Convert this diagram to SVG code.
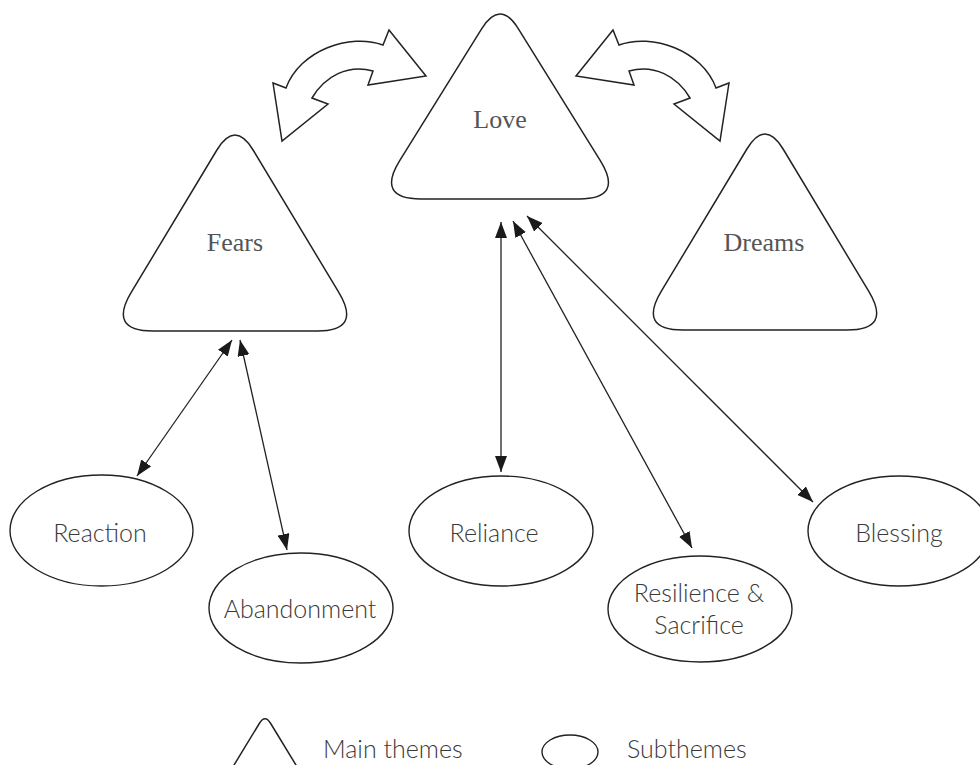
<svg xmlns="http://www.w3.org/2000/svg" xmlns:xlink="http://www.w3.org/1999/xlink" width="980" height="765" viewBox="0 0 980 765">
<style>
.tri{fill:#fff;stroke:#222;stroke-width:1.5;stroke-linejoin:round}
.ell{fill:#fff;stroke:#222;stroke-width:1.4}
.blk{fill:#fff;stroke:#222;stroke-width:1.5;stroke-linejoin:miter}
.ttl{font-family:"Liberation Serif","DejaVu Serif",serif;font-weight:normal;font-size:26px;fill:#555;text-anchor:middle}
.sub{font-family:Lato,"Liberation Sans",sans-serif;font-weight:300;font-size:25px;fill:#3a3a3a;text-anchor:middle}
.leg{font-family:Lato,"Liberation Sans",sans-serif;font-weight:300;font-size:25px;fill:#3a3a3a}
.con line{stroke:#222;stroke-width:1.3;marker-start:url(#ah);marker-end:url(#ah)}
</style>
<defs>
<marker id="ah" viewBox="0 0 16 12" refX="16" refY="6" markerWidth="16" markerHeight="12" markerUnits="userSpaceOnUse" orient="auto-start-reverse">
<path d="M0,0 L16,6 L0,12 Z" fill="#1a1a1a"/>
</marker>
<path id="curv" d="M426,76 L389,30 L383,45 C350,33 300,50 286,88 L273,83 L282,141 L328,104 L312,98 C325,76 348,64 373,71 L368,85 Z"/>
</defs>
<rect width="980" height="765" fill="#fff"/>

<g id="cycle-arrows">
<use xlink:href="#curv" class="blk"/>
<use xlink:href="#curv" class="blk" transform="matrix(-1 0 0 1 1002 0)"/>
</g>

<g id="love">
<path class="tri" d="M481.6,28.8 Q500,-1 518.4,28.8 L600.3,160.7 Q624,199 579,199 L421,199 Q376,199 399.7,160.7 Z"/>
<text class="ttl" x="500" y="128">Love</text>
</g>
<g id="fears">
<path class="tri" d="M216.9,150 Q235,120 253.1,150 L338.8,292.4 Q362,331 317,331 L153,331 Q108,331 131.2,292.4 Z"/>
<text class="ttl" x="235" y="251">Fears</text>
</g>
<g id="dreams">
<path class="tri" transform="translate(530,-1)" d="M216.9,150 Q235,120 253.1,150 L338.8,292.4 Q362,331 317,331 L153,331 Q108,331 131.2,292.4 Z"/>
<text class="ttl" x="764" y="251">Dreams</text>
</g>

<g id="reaction">
<ellipse class="ell" cx="101.5" cy="530.5" rx="91.5" ry="55.5"/>
<text class="sub" x="100" y="542">Reaction</text>
</g>
<g id="abandonment">
<ellipse class="ell" cx="301" cy="608" rx="92" ry="55"/>
<text class="sub" x="300" y="618">Abandonment</text>
</g>
<g id="reliance">
<ellipse class="ell" cx="501" cy="531" rx="92" ry="55"/>
<text class="sub" x="494" y="542">Reliance</text>
</g>
<g id="resilience">
<ellipse class="ell" cx="700" cy="609" rx="92" ry="53"/>
<text class="sub" x="699" y="602">Resilience &amp;</text>
<text class="sub" x="699" y="634">Sacrifice</text>
</g>
<g id="blessing">
<ellipse class="ell" cx="899" cy="531" rx="91" ry="55"/>
<text class="sub" x="899" y="542">Blessing</text>
</g>

<g id="connectors" class="con">
<line x1="232" y1="340" x2="137" y2="476"/>
<line x1="240" y1="340" x2="287" y2="550"/>
<line x1="501" y1="222" x2="501" y2="472"/>
<line x1="513" y1="221" x2="692" y2="548"/>
<line x1="527" y1="216" x2="813" y2="502"/>
</g>

<g id="legend">
<path class="tri" d="M259.3,723.5 Q265,714 270.7,723.5 L299,770 Q305,780 295,780 L235,780 Q225,780 231,770 Z"/>
<text class="leg" x="323" y="758">Main themes</text>
<ellipse class="ell" cx="570" cy="752" rx="28" ry="17"/>
<text class="leg" x="627" y="758">Subthemes</text>
</g>
</svg>
